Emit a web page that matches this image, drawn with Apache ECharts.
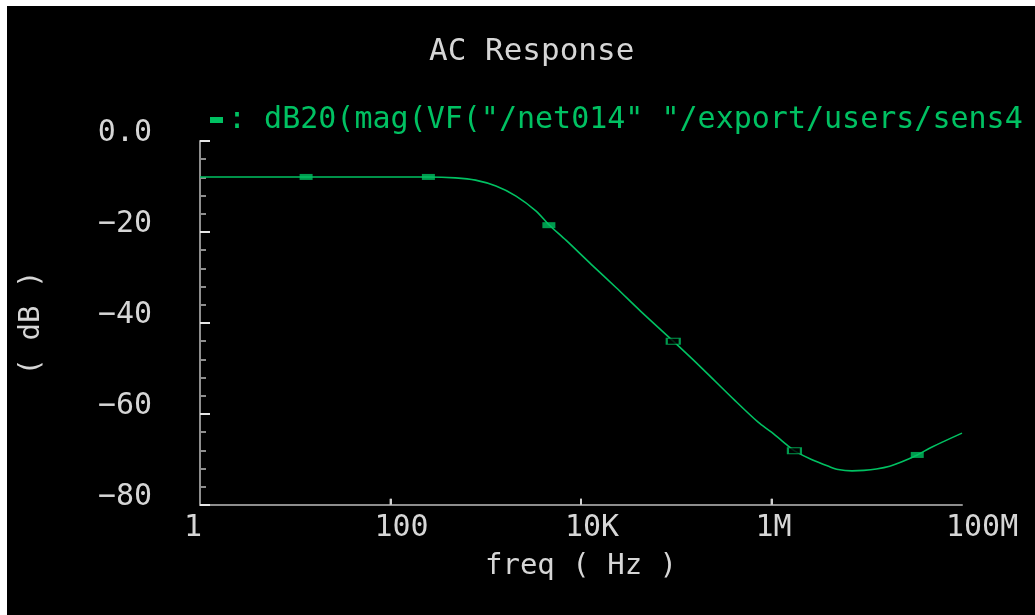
<!DOCTYPE html>
<html><head><meta charset="utf-8">
<script src="https://cdn.jsdelivr.net/npm/echarts@6/dist/echarts.min.js"></script>
<style>
html,body{margin:0;padding:0;background:#fff;width:1035px;height:615px;overflow:hidden}
#c{position:absolute;left:7px;top:6px;width:1028px;height:609px;background:#000}
</style></head><body><div id="c"></div>
<script>
// ---- data ----
const freq = [1, 13, 250, 480, 780, 1280, 2080, 3380, 4600, 6950, 12800, 23300, 42700, 93000, 183000, 407000, 724000, 1000000, 1550000, 1740000, 2630000, 3980000, 5010000, 7000000, 9330000, 12600000, 17400000, 23400000, 33900000, 47900000, 100000000];
const dB   = [-7.9, -7.9, -7.9, -8.1, -8.6, -9.9, -12.1, -15.4, -18.4, -21.8, -27.1, -32.2, -37.5, -44.0, -49.8, -56.9, -61.8, -64.0, -67.3, -68.1, -70.0, -71.5, -72.2, -72.5, -72.4, -72.1, -71.5, -70.5, -69.0, -67.3, -64.2];
const markerFreq = [13, 250, 4600, 93000, 1740000, 33900000];
const markerDb   = [-7.9, -7.9, -18.5, -44.0, -68.1, -69.0];
const xTickValues = [1, 100, 10000, 1000000, 100000000];
const xTickLabels = ['1', '100', '10K', '1M', '100M'];
const xMarkTicks  = [100, 10000, 1000000];
const yTickValues = [-80, -60, -40, -20, 0];
const yTickLabels = ['\u221280', '\u221260', '\u221240', '\u221220', '0.0'];
const seriesName = ': dB20(mag(VF("/net014" "/export/users/sens4';
const titleText = 'AC Response';
const xName = 'freq ( Hz )';
const yName = '( dB )';

// ---- chart ----
const FONT = 'DejaVu Sans Mono';
const GREEN = '#00c162';
const TXT = '#d6d6d6';
const AX = '#8e8e8e';
const TICK = '#cfcfcf';
const hollow = [3, 4];
const yMin = yTickValues[0];

const chart = echarts.init(document.getElementById('c'), null, {renderer: 'canvas'});
chart.setOption({
  backgroundColor: '#000',
  animation: false,
  title: {
    text: titleText, left: 417, top: 25,
    textStyle: {color: TXT, fontFamily: FONT, fontSize: 31, fontWeight: 'normal', lineHeight: 31}
  },
  legend: {
    data: [seriesName], left: 203, top: 99, padding: 0,
    icon: 'rect', itemWidth: 13, itemHeight: 6,
    textStyle: {color: GREEN, fontFamily: FONT, fontSize: 30, lineHeight: 30},
    selectedMode: false
  },
  grid: {left: 193, top: 135, right: 73, bottom: 110, containLabel: false},
  xAxis: {
    type: 'log', logBase: 10, min: 1, max: 100000000,
    name: xName, nameLocation: 'middle', nameGap: 47,
    nameTextStyle: {color: TXT, fontFamily: FONT, fontSize: 29},
    axisLine: {show: true, onZero: false, lineStyle: {color: AX, width: 2}},
    axisTick: {show: false},
    splitLine: {show: false},
    minorTick: {show: false},
    axisLabel: {
      show: true, margin: 8, color: TXT, fontFamily: FONT, fontSize: 30, lineHeight: 30,
      align: 'center',
      formatter: function (v) {
        const i = xTickValues.findIndex(t => Math.abs(Math.log10(t) - Math.log10(v)) < 1e-6);
        return i >= 0 ? '{a|' + xTickLabels[i] + '}' : '';
      },
      rich: {a: {width: 32, align: 'left', color: TXT, fontFamily: FONT, fontSize: 30, lineHeight: 30}}
    }
  },
  yAxis: {
    type: 'value', min: -80, max: 0, interval: 20,
    name: yName, nameLocation: 'middle', nameGap: 154, nameRotate: 90,
    nameTextStyle: {color: TXT, fontFamily: FONT, fontSize: 29},
    axisLine: {show: true, onZero: false, lineStyle: {color: AX, width: 2}},
    axisTick: {show: true, inside: true, length: 10, lineStyle: {color: '#e6e6e6', width: 2}},
    minorTick: {show: true, splitNumber: 5, length: 6, lineStyle: {color: AX, width: 2}},
    splitLine: {show: false},
    minorSplitLine: {show: false},
    axisLabel: {
      margin: 48, color: TXT, fontFamily: FONT, fontSize: 30, lineHeight: 16, verticalAlign: 'bottom',
      formatter: function (v) {
        const i = yTickValues.indexOf(v);
        return i >= 0 ? yTickLabels[i] : '';
      }
    }
  },
  series: [
    {
      name: seriesName, type: 'line', data: freq.map((f, i) => [f, dB[i]]),
      showSymbol: false, smooth: 0.3, lineStyle: {color: GREEN, width: 1.6},
      itemStyle: {color: GREEN}, z: 3,
      markLine: {
        silent: true, symbol: ['none', 'none'], animation: false,
        label: {show: false},
        lineStyle: {color: TICK, width: 2, type: 'solid'},
        emphasis: {disabled: true},
        data: xMarkTicks.map(v => [{coord: [v, yMin + 0.05]}, {coord: [v, yMin + 1.4]}])
      }
    },
    {
      type: 'scatter', data: markerFreq.map((f, i) => {
        const d = {value: [f, markerDb[i]]};
        if (hollow.indexOf(i) >= 0) d.itemStyle = {color: '#000', borderColor: GREEN, borderWidth: 1.5};
        return d;
      }),
      symbol: 'rect', symbolSize: [13, 6], itemStyle: {color: GREEN}, z: 4, silent: true
    },
    {
      name: 'xticks', type: 'scatter', data: xMarkTicks.map(v => [v, yMin + 0.7]),
      symbol: 'rect', symbolSize: [2, 6], itemStyle: {color: TICK}, z: 5, silent: true
    }
  ]
});
</script></body></html>
